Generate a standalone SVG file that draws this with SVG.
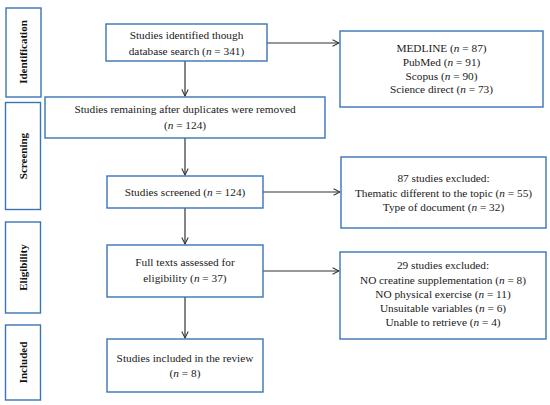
<svg xmlns="http://www.w3.org/2000/svg" width="550" height="405" viewBox="0 0 550 405">
<style>
.box{fill:#fff;stroke:#3b74b5;stroke-width:1.4}
.t{font-family:"Liberation Serif","Times New Roman",serif;font-size:11.3px;fill:#1a1a1a;text-anchor:middle}
.s{font-family:"Liberation Serif","Times New Roman",serif;font-size:11px;font-weight:bold;fill:#111;text-anchor:middle}
.c{stroke:#333;stroke-width:1.2;fill:none}
</style>
<defs>
<marker id="ah" viewBox="0 0 10 10" refX="9" refY="5" markerWidth="8" markerHeight="8" markerUnits="userSpaceOnUse" orient="auto">
<path d="M1,1 L9,5 L1,9" fill="none" stroke="#333" stroke-width="1.3"/>
</marker>
</defs>
<rect width="550" height="405" fill="#fff"/>
<g id="stage-identification"><rect class="box" x="6" y="8" width="35" height="89"/><text class="s" transform="translate(27,52) rotate(-90)">Identification</text></g>
<g id="stage-screening"><rect class="box" x="5.5" y="102.5" width="35" height="107"/><text class="s" transform="translate(27,156) rotate(-90)">Screening</text></g>
<g id="stage-eligibility"><rect class="box" x="5.5" y="222" width="35" height="91"/><text class="s" transform="translate(27,267.5) rotate(-90)">Eligibility</text></g>
<g id="stage-included"><rect class="box" x="5.5" y="325" width="35" height="75"/><text class="s" transform="translate(27,362.5) rotate(-90)">Included</text></g>

<g id="connectors">
<line class="c" x1="267" y1="43" x2="339" y2="43" marker-end="url(#ah)"/>
<line class="c" x1="185" y1="61" x2="185" y2="96" marker-end="url(#ah)"/>
<line class="c" x1="185" y1="138" x2="185" y2="175" marker-end="url(#ah)"/>
<line class="c" x1="263" y1="192" x2="340" y2="192" marker-end="url(#ah)"/>
<line class="c" x1="185" y1="208" x2="185" y2="244" marker-end="url(#ah)"/>
<line class="c" x1="263" y1="271" x2="339" y2="271" marker-end="url(#ah)"/>
<line class="c" x1="185" y1="297" x2="185" y2="338" marker-end="url(#ah)"/>
</g>

<g id="identified"><rect class="box" x="106" y="24" width="161" height="37"/>
<text class="t" x="186.5" y="39">Studies identified though</text>
<text class="t" x="186.5" y="55">database search (<tspan font-style="italic">n</tspan> = 341)</text></g>

<g id="databases"><rect class="box" x="340" y="31" width="203" height="76"/>
<text class="t" x="441.5" y="52">MEDLINE (<tspan font-style="italic">n</tspan> = 87)</text>
<text class="t" x="441.5" y="66">PubMed (<tspan font-style="italic">n</tspan> = 91)</text>
<text class="t" x="441.5" y="79.5">Scopus (<tspan font-style="italic">n</tspan> = 90)</text>
<text class="t" x="441.5" y="93">Science direct (<tspan font-style="italic">n</tspan> = 73)</text></g>

<g id="remaining"><rect class="box" x="45" y="97" width="280" height="41"/>
<text class="t" x="185" y="113">Studies remaining after duplicates were removed</text>
<text class="t" x="185" y="129">(<tspan font-style="italic">n</tspan> = 124)</text></g>

<g id="screened"><rect class="box" x="107" y="176" width="156" height="32"/>
<text class="t" x="185" y="196">Studies screened (<tspan font-style="italic">n</tspan> = 124)</text></g>

<g id="excluded87"><rect class="box" x="341" y="157" width="205" height="71"/>
<text class="t" x="443.5" y="182">87 studies excluded:</text>
<text class="t" x="443.5" y="196.5">Thematic different to the topic (<tspan font-style="italic">n</tspan> = 55)</text>
<text class="t" x="443.5" y="211">Type of document (<tspan font-style="italic">n</tspan> = 32)</text></g>

<g id="fulltext"><rect class="box" x="107" y="245" width="156" height="52"/>
<text class="t" x="185" y="266">Full texts assessed for</text>
<text class="t" x="185" y="282">eligibility (<tspan font-style="italic">n</tspan> = 37)</text></g>

<g id="excluded29"><rect class="box" x="340" y="252" width="206" height="87"/>
<text class="t" x="443" y="269">29 studies excluded:</text>
<text class="t" x="443" y="283.5">NO creatine supplementation (<tspan font-style="italic">n</tspan> = 8)</text>
<text class="t" x="443" y="298">NO physical exercise (<tspan font-style="italic">n</tspan> = 11)</text>
<text class="t" x="443" y="312">Unsuitable variables (<tspan font-style="italic">n</tspan> = 6)</text>
<text class="t" x="443" y="326">Unable to retrieve (<tspan font-style="italic">n</tspan> = 4)</text></g>

<g id="included"><rect class="box" x="107" y="339" width="156" height="53"/>
<text class="t" x="185" y="362">Studies included in the review</text>
<text class="t" x="185" y="377">(<tspan font-style="italic">n</tspan> = 8)</text></g>
</svg>
